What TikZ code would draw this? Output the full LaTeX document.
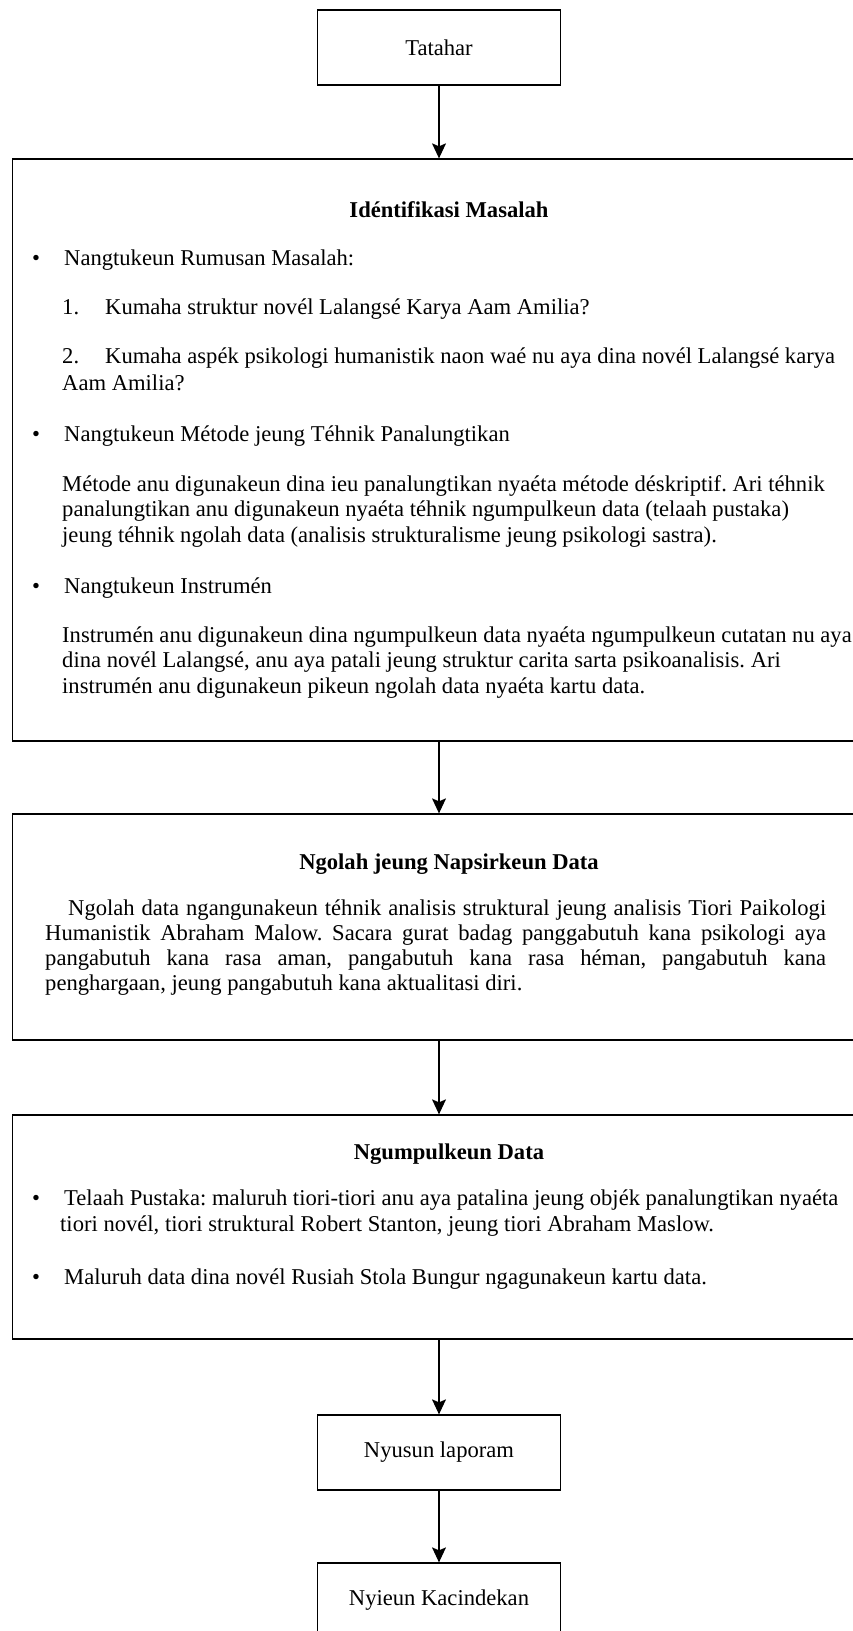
\documentclass[tikz,border=0pt]{standalone}
\usepackage{fontspec}
\setmainfont{Liberation Serif}
\usetikzlibrary{arrows.meta}

\begin{document}
\fontsize{22.6}{25}\selectfont\frenchspacing
\begin{tikzpicture}[x=1pt,y=-1pt,
	kotak/.style={draw,line width=1.3pt,minimum width=243pt,minimum height=75pt,inner sep=0pt},
	kotakgede/.style={draw,line width=1.3pt,minimum width=853pt,inner sep=0pt},
	panah/.style={line width=1.3pt,-{Stealth[length=15pt,width=14pt,inset=3pt]}},
	teks/.style={anchor=base west,inner sep=0pt},
	judul/.style={anchor=base,inner sep=0pt,font=\bfseries}]
\path[use as bounding box] (0,0) rectangle (853,1631);
\clip (0,0) rectangle (853,1631);

\node (tatahar) at (439,47.5) [kotak] {Tatahar};
\node (ident) at (439,450) [kotakgede,minimum height=582pt] {};
\node (napsir) at (439,927) [kotakgede,minimum height=226pt] {};
\node (kumpul) at (439,1227) [kotakgede,minimum height=224pt] {};
\node (nyusun) at (439,1452.5) [kotak] {Nyusun laporam};
\node (nyieun) at (439,1600.5) [kotak] {Nyieun Kacindekan};

\foreach \a/\b in {tatahar/ident,ident/napsir,napsir/kumpul,kumpul/nyusun,nyusun/nyieun}
	\draw[panah] (\a) -- (\b);

\node (judul1) at (449,217) [judul] {Idéntifikasi Masalah};
\foreach \y in {265,441,593,1205,1284} {
	\node (titik\y) at (36,\y) [anchor=base,inner sep=0pt] {\textbullet};
	}
\node (rumusan) at (64,265) [teks] {Nangtukeun Rumusan Masalah:};
\node (no1) at (62,314) [teks] {1.};
\node (rumus1) at (105,314) [teks] {Kumaha struktur novél Lalangsé Karya Aam Amilia?};
\node (no2) at (62,363) [teks] {2.};
\node (rumus2) at (105,363) [teks] {Kumaha aspék psikologi humanistik naon waé nu aya dina novél Lalangsé karya};
\node (rumus2b) at (62,390) [teks] {Aam Amilia?};
\node (metode) at (64,441) [teks] {Nangtukeun Métode jeung Téhnik Panalungtikan};
\node (metode1) at (62,491) [teks] {Métode anu digunakeun dina ieu panalungtikan nyaéta métode déskriptif. Ari téhnik};
\node (metode2) at (62,516) [teks] {panalungtikan anu digunakeun nyaéta téhnik ngumpulkeun data (telaah pustaka)};
\node (metode3) at (62,542) [teks] {jeung téhnik ngolah data (analisis strukturalisme jeung psikologi sastra).};
\node (instrumen) at (64,593) [teks] {Nangtukeun Instrumén};
\node (instr1) at (62,642) [teks] {Instrumén anu digunakeun dina ngumpulkeun data nyaéta ngumpulkeun cutatan nu aya};
\node (instr2) at (62,667) [teks] {dina novél Lalangsé, anu aya patali jeung struktur carita sarta psikoanalisis. Ari};
\node (instr3) at (62,693) [teks] {instrumén anu digunakeun pikeun ngolah data nyaéta kartu data.};

\node (judul2) at (449,869) [judul] {Ngolah jeung Napsirkeun Data};
\node (ngolah) at (45,915) [teks,text width=781pt,align=justify] {\hspace*{23pt}Ngolah data ngangunakeun téhnik analisis struktural jeung analisis Tiori Paikologi\linebreak Humanistik Abraham Malow. Sacara gurat badag panggabutuh kana psikologi aya\linebreak pangabutuh kana rasa aman, pangabutuh kana rasa héman, pangabutuh kana\linebreak penghargaan, jeung pangabutuh kana aktualitasi diri.};

\node (judul3) at (449,1159) [judul] {Ngumpulkeun Data};
\node (telaah1) at (64,1205) [teks] {Telaah Pustaka: maluruh tiori-tiori anu aya patalina jeung objék panalungtikan nyaéta};
\node (telaah2) at (60,1231) [teks] {tiori novél, tiori struktural Robert Stanton, jeung tiori Abraham Maslow.};
\node (maluruh) at (64,1284) [teks] {Maluruh data dina novél Rusiah Stola Bungur ngagunakeun kartu data.};
\end{tikzpicture}
\end{document}
